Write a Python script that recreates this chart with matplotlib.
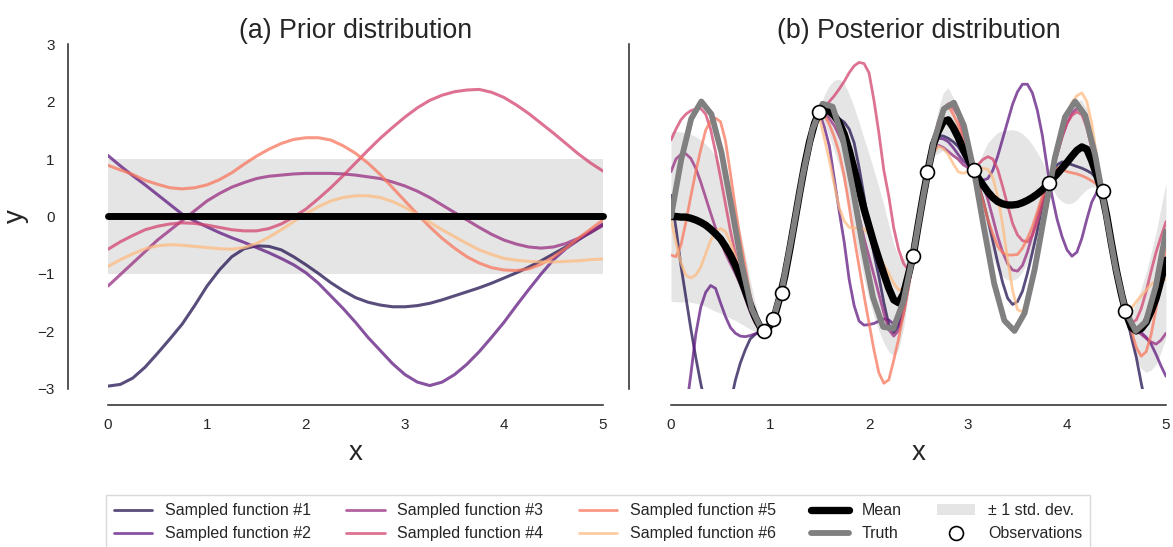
import numpy as np
import matplotlib
matplotlib.use("Agg")
import matplotlib.pyplot as plt
import seaborn as sns

sns.set_style("white")
plt.rcParams["font.family"] = ["Liberation Sans", "DejaVu Sans"]
plt.rcParams["text.color"] = "#262626"
plt.rcParams["axes.labelcolor"] = "#262626"
plt.rcParams["xtick.color"] = "#262626"
plt.rcParams["ytick.color"] = "#262626"

# ---------------------------------------------------------------- prior panel
prior_x = np.linspace(0, 5, 41)
prior_f1 = [-2.95, -2.92, -2.81, -2.62, -2.38, -2.13, -1.87, -1.55, -1.21, -0.93,
            -0.70, -0.56, -0.51, -0.52, -0.58, -0.70, -0.84, -0.99, -1.15, -1.29,
            -1.41, -1.49, -1.54, -1.57, -1.57, -1.55, -1.51, -1.45, -1.38, -1.31,
            -1.24, -1.16, -1.07, -0.98, -0.88, -0.77, -0.65, -0.53, -0.40, -0.28,
            -0.15]
prior_f2 = [1.06, 0.88, 0.71, 0.55, 0.38, 0.21, 0.04, -0.08, -0.18, -0.28,
            -0.37, -0.45, -0.54, -0.63, -0.73, -0.84, -0.98, -1.16, -1.38, -1.60,
            -1.84, -2.10, -2.33, -2.56, -2.75, -2.88, -2.94, -2.88, -2.75, -2.57,
            -2.35, -2.10, -1.84, -1.55, -1.27, -1.00, -0.75, -0.56, -0.41, -0.26,
            -0.13]
prior_f3 = [-1.21, -1.01, -0.81, -0.61, -0.41, -0.24, -0.07, 0.10, 0.27, 0.40,
            0.51, 0.59, 0.66, 0.70, 0.72, 0.74, 0.75, 0.75, 0.75, 0.74,
            0.72, 0.69, 0.66, 0.60, 0.53, 0.44, 0.33, 0.20, 0.07, -0.06,
            -0.19, -0.31, -0.41, -0.48, -0.53, -0.55, -0.53, -0.47, -0.38, -0.27,
            -0.15]
prior_f4 = [-0.57, -0.44, -0.33, -0.23, -0.17, -0.13, -0.11, -0.12, -0.15, -0.19,
            -0.23, -0.25, -0.25, -0.21, -0.13, -0.01, 0.13, 0.31, 0.50, 0.71,
            0.93, 1.15, 1.36, 1.55, 1.73, 1.89, 2.02, 2.11, 2.17, 2.20,
            2.21, 2.16, 2.07, 1.94, 1.79, 1.62, 1.45, 1.27, 1.09, 0.93,
            0.79]
prior_f5 = [0.89, 0.81, 0.73, 0.63, 0.56, 0.50, 0.48, 0.50, 0.55, 0.64,
            0.76, 0.91, 1.05, 1.17, 1.27, 1.34, 1.37, 1.37, 1.33, 1.23,
            1.10, 0.93, 0.73, 0.50, 0.27, 0.04, -0.18, -0.38, -0.55, -0.70,
            -0.81, -0.89, -0.93, -0.94, -0.91, -0.83, -0.70, -0.55, -0.38, -0.22,
            -0.06]
prior_f6 = [-0.87, -0.75, -0.65, -0.56, -0.51, -0.49, -0.50, -0.52, -0.54, -0.56,
            -0.57, -0.54, -0.47, -0.36, -0.23, -0.09, 0.05, 0.17, 0.27, 0.33,
            0.36, 0.36, 0.33, 0.26, 0.16, 0.03, -0.10, -0.23, -0.35, -0.47,
            -0.58, -0.66, -0.73, -0.76, -0.78, -0.79, -0.79, -0.78, -0.77, -0.75,
            -0.74]
prior_mean = 0.0
prior_std = 1.0

# ------------------------------------------------------------ posterior panel
post_x = np.linspace(0, 5, 101)
post_f1 = [0.37, -0.20, -0.85, -1.40, -1.95, -2.45, -2.90, -3.30, -3.60, -3.70,
           -3.70, -3.55, -3.25, -2.85, -2.55, -2.32, -2.13, -2.05, -2.01, -1.99,
           -1.90, -1.71, -1.40, -1.02, -0.55, -0.05, 0.45, 0.92, 1.32, 1.63,
           1.84, 1.83, 1.78, 1.75, 1.70, 1.64, 1.52, 1.28, 0.85, 0.35,
           -0.20, -0.65, -1.05, -1.50, -1.88, -2.02, -1.90, -1.55, -1.15, -0.70,
           -0.12, 0.40, 0.84, 1.22, 1.40, 1.40, 1.36, 1.30, 1.22, 1.08,
           0.93, 0.80, 0.58, 0.30, -0.05, -0.42, -0.80, -1.15, -1.42, -1.53,
           -1.48, -1.30, -0.99, -0.63, -0.25, 0.20, 0.50, 0.75, 0.90, 0.95,
           0.93, 0.90, 0.87, 0.84, 0.80, 0.75, 0.66, 0.45, 0.02, -0.48,
           -0.95, -1.35, -1.72, -2.10, -2.45, -2.90, -3.30, -3.70, -4.00, -4.30,
           -4.50]
post_f2 = [-5.20, -4.60, -4.00, -3.40, -2.75, -2.05, -1.58, -1.32, -1.20, -1.25,
           -1.50, -1.74, -1.93, -2.03, -2.08, -2.09, -2.07, -2.04, -2.01, -1.99,
           -1.90, -1.72, -1.41, -1.05, -0.60, -0.12, 0.38, 0.85, 1.27, 1.60,
           1.80, 1.55, 1.22, 0.65, 0.08, -0.45, -1.10, -1.55, -1.82, -1.89,
           -1.88, -1.86, -1.82, -1.78, -1.80, -1.87, -1.89, -1.60, -1.12, -0.70,
           -0.10, 0.40, 0.84, 1.20, 1.36, 1.35, 1.30, 1.20, 1.08, 0.97,
           0.90, 0.81, 0.70, 0.63, 0.66, 0.80, 1.05, 1.35, 1.65, 1.95,
           2.17, 2.30, 2.30, 2.15, 1.85, 1.42, 0.85, 0.35, -0.05, -0.35,
           -0.58, -0.69, -0.62, -0.38, -0.05, 0.25, 0.42, 0.43, 0.03, -0.48,
           -0.95, -1.35, -1.72, -1.88, -1.95, -2.02, -2.10, -2.22, -2.40, -2.60,
           -2.78]
post_f3 = [0.78, 1.00, 1.08, 1.09, 1.01, 0.84, 0.60, 0.33, 0.06, -0.20,
           -0.43, -0.64, -0.82, -0.99, -1.18, -1.42, -1.66, -1.85, -1.96, -1.99,
           -1.90, -1.71, -1.40, -1.02, -0.56, -0.07, 0.43, 0.90, 1.31, 1.63,
           1.83, 1.79, 1.70, 1.58, 1.40, 1.20, 0.85, 0.45, 0.00, -0.38,
           -0.70, -1.02, -1.35, -1.68, -1.97, -2.08, -1.98, -1.68, -1.20, -0.70,
           -0.12, 0.40, 0.83, 1.10, 1.24, 1.20, 1.13, 1.06, 1.00, 0.90,
           0.85, 0.81, 0.72, 0.55, 0.30, -0.02, -0.35, -0.62, -0.82, -0.93,
           -0.95, -0.85, -0.62, -0.32, 0.00, 0.30, 0.52, 0.78, 1.08, 1.38,
           1.62, 1.80, 1.88, 1.83, 1.65, 1.30, 0.85, 0.44, 0.02, -0.48,
           -0.95, -1.35, -1.70, -1.88, -1.98, -2.05, -2.12, -2.18, -2.22, -2.15,
           -2.03]
post_f4 = [1.33, 1.52, 1.68, 1.78, 1.84, 1.87, 1.88, 1.78, 1.52, 1.12,
           0.68, 0.22, -0.25, -0.64, -1.00, -1.34, -1.60, -1.80, -1.94, -1.99,
           -1.90, -1.70, -1.39, -1.00, -0.54, -0.05, 0.45, 0.92, 1.33, 1.65,
           1.85, 1.90, 2.00, 2.10, 2.22, 2.35, 2.50, 2.62, 2.68, 2.66,
           2.50, 2.02, 1.45, 0.80, 0.35, -0.20, -0.58, -0.82, -0.93, -0.70,
           -0.10, 0.42, 0.85, 1.30, 1.65, 1.88, 1.96, 1.88, 1.76, 1.40,
           1.05, 0.82, 0.90, 0.99, 1.04, 1.00, 0.82, 0.52, 0.20, -0.12,
           -0.32, -0.42, -0.44, -0.33, -0.10, 0.22, 0.52, 0.80, 1.08, 1.38,
           1.62, 1.76, 1.82, 1.77, 1.55, 1.18, 0.78, 0.44, 0.02, -0.48,
           -0.95, -1.35, -1.70, -1.85, -1.80, -1.60, -1.30, -0.95, -0.62, -0.35,
           -0.09]
post_f5 = [-0.67, -0.70, -0.50, -0.10, 0.35, 0.78, 1.16, 1.50, 1.66, 1.71,
           1.65, 1.32, 0.75, 0.15, -0.40, -0.87, -1.38, -1.70, -1.92, -1.99,
           -1.90, -1.71, -1.40, -1.03, -0.58, -0.09, 0.41, 0.88, 1.29, 1.61,
           1.82, 1.76, 1.60, 1.38, 1.10, 0.70, 0.17, -0.36, -0.87, -1.38,
           -1.85, -2.32, -2.72, -2.90, -2.84, -2.50, -2.12, -1.68, -1.22, -0.70,
           -0.11, 0.41, 0.85, 1.28, 1.62, 1.85, 1.92, 1.78, 1.60, 1.30,
           1.02, 0.81, 0.55, 0.28, -0.05, -0.30, -0.52, -0.63, -0.67, -0.67,
           -0.66, -0.55, -0.38, -0.18, 0.08, 0.35, 0.55, 0.72, 0.84, 0.82,
           0.78, 0.76, 0.74, 0.71, 0.67, 0.62, 0.56, 0.44, 0.02, -0.48,
           -0.95, -1.35, -1.72, -1.98, -2.28, -2.43, -2.35, -2.05, -1.60, -1.05,
           -0.52]
post_f6 = [-0.06, -0.45, -0.80, -1.02, -1.07, -1.02, -0.88, -0.65, -0.42, -0.26,
           -0.21, -0.26, -0.45, -0.70, -0.95, -1.20, -1.47, -1.72, -1.92, -1.99,
           -1.90, -1.71, -1.40, -1.03, -0.57, -0.08, 0.42, 0.89, 1.30, 1.62,
           1.72, 1.35, 0.98, 0.55, 0.15, -0.08, -0.19, -0.20, -0.20, -0.22,
           -0.30, -0.48, -0.68, -0.84, -0.99, -1.16, -1.28, -1.25, -1.08, -0.70,
           -0.11, 0.40, 0.82, 1.10, 1.22, 1.18, 1.08, 0.92, 0.78, 0.75,
           0.78, 0.81, 0.83, 0.84, 0.82, 0.68, 0.35, -0.15, -0.75, -1.28,
           -1.62, -1.66, -1.45, -1.10, -0.65, -0.18, 0.40, 0.80, 1.20, 1.52,
           1.79, 1.98, 2.10, 2.15, 2.00, 1.62, 1.05, 0.45, 0.02, -0.48,
           -0.95, -1.35, -1.68, -1.60, -1.48, -1.38, -1.28, -1.18, -1.12, -1.08,
           -1.10]
post_mean = [0.00, 0.00, -0.01, -0.01, -0.03, -0.06, -0.10, -0.15, -0.22, -0.30,
             -0.39, -0.52, -0.67, -0.85, -1.06, -1.29, -1.53, -1.75, -1.92, -1.98,
             -1.90, -1.71, -1.40, -1.03, -0.57, -0.08, 0.42, 0.89, 1.30, 1.62,
             1.83, 1.87, 1.83, 1.75, 1.63, 1.43, 1.15, 0.82, 0.48, 0.13,
             -0.17, -0.47, -0.74, -1.00, -1.25, -1.45, -1.50, -1.34, -1.00, -0.64,
             -0.12, 0.38, 0.84, 1.25, 1.48, 1.65, 1.68, 1.55, 1.38, 1.18,
             1.00, 0.83, 0.68, 0.55, 0.43, 0.33, 0.26, 0.22, 0.20, 0.20,
             0.21, 0.24, 0.28, 0.33, 0.39, 0.46, 0.55, 0.65, 0.74, 0.84,
             0.94, 1.05, 1.15, 1.21, 1.17, 0.97, 0.72, 0.44, 0.02, -0.48,
             -0.95, -1.35, -1.70, -1.93, -1.99, -1.95, -1.84, -1.65, -1.42, -1.10,
             -0.76]
post_std = [1.48, 1.48, 1.48, 1.47, 1.46, 1.45, 1.43, 1.41, 1.39, 1.35,
            1.29, 1.20, 1.10, 0.96, 0.80, 0.62, 0.43, 0.25, 0.10, 0.03,
            0.04, 0.03, 0.03, 0.06, 0.12, 0.16, 0.17, 0.15, 0.10, 0.05,
            0.03, 0.25, 0.45, 0.62, 0.76, 0.88, 0.98, 1.08, 1.16, 1.22,
            1.26, 1.27, 1.25, 1.20, 1.10, 0.97, 0.80, 0.60, 0.35, 0.03,
            0.08, 0.06, 0.03, 0.20, 0.38, 0.50, 0.56, 0.52, 0.42, 0.28,
            0.14, 0.03, 0.25, 0.55, 0.85, 1.05, 1.20, 1.27, 1.30, 1.31,
            1.28, 1.20, 1.08, 0.92, 0.72, 0.50, 0.20, 0.15, 0.40, 0.58,
            0.72, 0.82, 0.86, 0.82, 0.70, 0.45, 0.22, 0.03, 0.08, 0.12,
            0.12, 0.07, 0.03, 0.25, 0.50, 0.70, 0.87, 1.02, 1.15, 1.26,
            1.35]

truth_x = np.linspace(0, 5, 50)
truth_y = [0.00, 0.98, 1.70, 2.00, 1.78, 1.11, 0.16, -0.83, -1.61, -1.98,
           -1.85, -1.25, -0.32, 0.68, 1.51, 1.96, 1.91, 1.36, 0.48, -0.53,
           -1.41, -1.92, -1.95, -1.48, -0.63, 0.38, 1.29, 1.87, 1.98, 1.58,
           0.78, -0.22, -1.17, -1.81, -1.99, -1.68, -0.92, 0.06, 1.02, 1.73,
           2.00, 1.76, 1.06, 0.10, -0.88, -1.65, -1.99, -1.83, -1.21, -0.26]

obs_x = [0.94, 1.03, 1.12, 1.49, 2.44, 2.59, 3.06, 3.82, 4.36, 4.59]
obs_y = [-1.99, -1.78, -1.33, 1.82, -0.69, 0.77, 0.81, 0.58, 0.44, -1.65]

sample_labels = [f"Sampled function #{i}" for i in range(1, 7)]
sample_colors = sns.color_palette("magma", 6)
sample_alpha = 0.75

# ---------------------------------------------------------------- drawing
fig = plt.figure(figsize=(11.73, 5.47), dpi=100)
ax1 = fig.add_axes([0.09207, 0.28885, 0.42199, 0.63071])
ax2 = fig.add_axes([0.57204, 0.28885, 0.42199, 0.63071], sharey=ax1)

band_color = (0.0, 0.0, 0.0, 0.10)

# (a) prior
ax1.fill_between(prior_x, prior_mean - prior_std, prior_mean + prior_std,
                 color=band_color, linewidth=0)
for ys, c in zip([prior_f1, prior_f2, prior_f3, prior_f4, prior_f5, prior_f6],
                 sample_colors):
    ax1.plot(prior_x, ys, color=c, alpha=sample_alpha, lw=2.2)
ax1.plot(prior_x, np.full_like(prior_x, prior_mean), color="black", lw=5,
         solid_capstyle="round", clip_on=False)

# (b) posterior: band, samples, mean, then the true function on top
pm = np.array(post_mean)
ps = np.array(post_std)
band = ax2.fill_between(post_x, pm - ps, pm + ps, color=band_color, linewidth=0,
                        label="± 1 std. dev.")
handles = []
for ys, c, lab in zip([post_f1, post_f2, post_f3, post_f4, post_f5, post_f6],
                      sample_colors, sample_labels):
    h, = ax2.plot(post_x, ys, color=c, alpha=sample_alpha, lw=2.0, label=lab)
    handles.append(h)
h_mean, = ax2.plot(post_x, post_mean, color="black", lw=5.3,
                   solid_capstyle="round", label="Mean")
h_truth, = ax2.plot(truth_x, truth_y, color="gray", lw=4.2, label="Truth")
h_obs, = ax2.plot(obs_x, obs_y, "o", ms=10, mfc="white", mec="black", mew=1.2,
                  label="Observations", zorder=5)

for ax, off in ((ax1, 28.8), (ax2, 30.2)):
    ax.set_xlim(0, 5)
    ax.set_ylim(-3, 3)
    ax.set_xticks(range(0, 6))
    ax.set_yticks(range(-3, 4))
    for s in ("top", "right"):
        ax.spines[s].set_visible(False)
    ax.spines["left"].set_position(("outward", off))
    ax.spines["bottom"].set_position(("outward", 11.5))
    ax.spines["left"].set_bounds(-3, 3)
    ax.spines["bottom"].set_bounds(0, 5)
    for s in ("left", "bottom"):
        ax.spines[s].set_color("#262626")
        ax.spines[s].set_linewidth(1.1)
    ax.tick_params(length=0, pad=9.5, labelsize=11)
    ax.set_xlabel("x", fontsize=20, labelpad=6)

ax2.tick_params(labelleft=False)
ax1.set_ylabel("y", fontsize=20, labelpad=6)
ax1.set_title("(a) Prior distribution", fontsize=19.3, pad=4)
ax2.set_title("(b) Posterior distribution", fontsize=19.3, pad=4)

leg_handles = handles + [h_mean, h_truth, band, h_obs]
leg = fig.legend(leg_handles, [h.get_label() for h in leg_handles],
                 loc="upper center", bbox_to_anchor=(0.51, 0.109), ncol=5,
                 fontsize=11.5, frameon=True, fancybox=False,
                 handlelength=2.4, columnspacing=2.2, borderpad=0.5)
leg.get_frame().set_edgecolor("#d0d0d0")
leg.get_frame().set_linewidth(1.0)

fig.savefig("out.png", dpi=100)
